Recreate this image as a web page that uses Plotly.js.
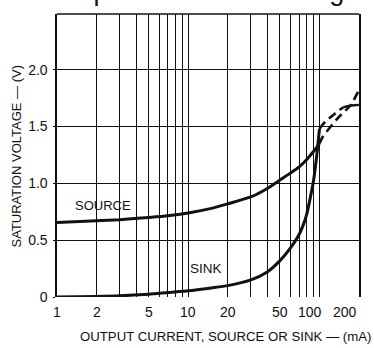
<!DOCTYPE html>
<html>
<head>
<meta charset="utf-8">
<script src="https://cdn.plot.ly/plotly-3.0.1.min.js"></script>
<style>
  html, body { margin: 0; padding: 0; background: #fff; }
  #chart { width: 374px; height: 348px; }
</style>
</head>
<body>
<div id="chart"></div>
<script>
// ---- data ----
const sourceCurrent = [1, 2, 3, 5, 7, 10, 15, 20, 30, 40, 50, 60, 70, 80, 90, 100];
const sourceVoltage = [0.655, 0.67, 0.68, 0.70, 0.715, 0.74, 0.78, 0.82, 0.88, 0.955, 1.03, 1.09, 1.145, 1.21, 1.28, 1.35];

const sinkCurrent = [1, 2, 3, 5, 7, 10, 15, 20, 30, 40, 50, 60, 70, 75, 80, 85, 90, 95, 100];
const sinkVoltage = [0, 0.005, 0.01, 0.025, 0.04, 0.055, 0.08, 0.10, 0.15, 0.22, 0.32, 0.43, 0.55, 0.63, 0.73, 0.87, 1.02, 1.23, 1.48];

const sourceExtCurrent = [100, 106, 137, 173, 200];
const sourceExtVoltage = [1.35, 1.41, 1.57, 1.69, 1.82];

const sinkExtCurrent = [100, 110, 130, 152];
const sinkExtVoltage = [1.48, 1.54, 1.61, 1.67];

const sinkEndCurrent = [152, 175, 200];
const sinkEndVoltage = [1.67, 1.685, 1.69];

const gridCurrents = [1, 2, 3, 4, 5, 6, 7, 8, 9, 10, 20, 30, 40, 50, 60, 70, 80, 90, 100, 200];
const labeledCurrents = [1, 2, 5, 10, 20, 50, 100, 200];
const voltageTicks = [0, 0.5, 1.0, 1.5, 2.0];
const voltageLabels = ['0', '0.5', '1.0', '1.5', '2.0'];

const chartTitle = 'Output Saturation Voltage';
const xTitle = 'OUTPUT CURRENT, SOURCE OR SINK \u2014 (mA)';
const yTitle = 'SATURATION VOLTAGE \u2014 (V)';
const sourceLabel = 'SOURCE';
const sinkLabel = 'SINK';

// ---- build ----
const FONT = 'Liberation Sans, Arial, Helvetica, sans-serif';
const INK = '#111';
// the last two labels sit a little left of their grid lines, as in the reference
const labelNudge = {100: -9, 200: -14};

const solid = {color: INK, width: 3, shape: 'spline', smoothing: 0.6};
const dashed = {color: INK, width: 2.6, dash: '9px,5px', shape: 'spline', smoothing: 0.6};

const traces = [
  {x: sourceCurrent, y: sourceVoltage, mode: 'lines', line: solid, hoverinfo: 'skip'},
  {x: sinkCurrent, y: sinkVoltage, mode: 'lines', line: solid, hoverinfo: 'skip'},
  {x: sourceExtCurrent, y: sourceExtVoltage, mode: 'lines', line: dashed, hoverinfo: 'skip'},
  {x: sinkExtCurrent, y: sinkExtVoltage, mode: 'lines', line: dashed, hoverinfo: 'skip'},
  {x: sinkEndCurrent, y: sinkEndVoltage, mode: 'lines', line: {color: INK, width: 2.4}, hoverinfo: 'skip'}
];

const xLabelAnnotations = labeledCurrents.map(v => ({
  text: String(v), xref: 'x', yref: 'paper', x: Math.log10(v), y: 0,
  xanchor: 'center', yanchor: 'middle', xshift: labelNudge[v] || 0, yshift: -14.5,
  showarrow: false, font: {family: FONT, size: 14, color: INK}
}));

const layout = {
  width: 374, height: 348,
  margin: {l: 57, r: 15, t: 14, b: 51, pad: 0},
  paper_bgcolor: '#fff', plot_bgcolor: '#fff',
  showlegend: false,
  font: {family: FONT, color: INK, size: 14},
  xaxis: {
    type: 'log', range: [-0.0002, 2.3012],
    tickmode: 'array', tickvals: gridCurrents,
    showticklabels: false,
    showgrid: true, gridcolor: INK, gridwidth: 1,
    zeroline: false, showline: false, ticks: '',
    fixedrange: true
  },
  yaxis: {
    range: [0, 2.49],
    tickmode: 'array', tickvals: voltageTicks, ticktext: voltageLabels,
    showgrid: true, gridcolor: INK, gridwidth: 1,
    zeroline: false, showline: true, mirror: true, linecolor: INK, linewidth: 1.6,
    ticks: 'outside', ticklen: 2, tickwidth: 1, tickcolor: INK,
    ticklabelstandoff: 3,
    tickfont: {family: FONT, size: 14, color: INK},
    fixedrange: true
  },
  shapes: [
    {type: 'line', xref: 'paper', yref: 'paper', x0: 0, x1: 1, y0: 1, y1: 1,
     line: {color: INK, width: 1.6}}
  ],
  annotations: [
    {text: chartTitle, xref: 'paper', yref: 'paper', x: 0.49, y: 1.081,
     xanchor: 'center', yanchor: 'middle', showarrow: false,
     font: {family: FONT, size: 27, color: INK}},
    {text: xTitle, xref: 'paper', yref: 'paper', x: 0.558, y: -0.14,
     xanchor: 'center', yanchor: 'middle', showarrow: false,
     font: {family: FONT, size: 13.2, color: INK}},
    {text: yTitle, xref: 'paper', yref: 'paper', x: -0.1325, y: 0.5, textangle: -90,
     xanchor: 'center', yanchor: 'middle', showarrow: false,
     font: {family: FONT, size: 13, color: INK}},
    {text: sourceLabel, xref: 'x', yref: 'y', x: 0.35, y: 0.805,
     xanchor: 'center', yanchor: 'middle', showarrow: false,
     font: {family: FONT, size: 13, color: INK}},
    {text: sinkLabel, xref: 'x', yref: 'y', x: 1.132, y: 0.255,
     xanchor: 'center', yanchor: 'middle', showarrow: false,
     font: {family: FONT, size: 13.5, color: INK}}
  ].concat(xLabelAnnotations)
};

Plotly.newPlot('chart', traces, layout, {staticPlot: true, displayModeBar: false});
</script>
</body>
</html>
